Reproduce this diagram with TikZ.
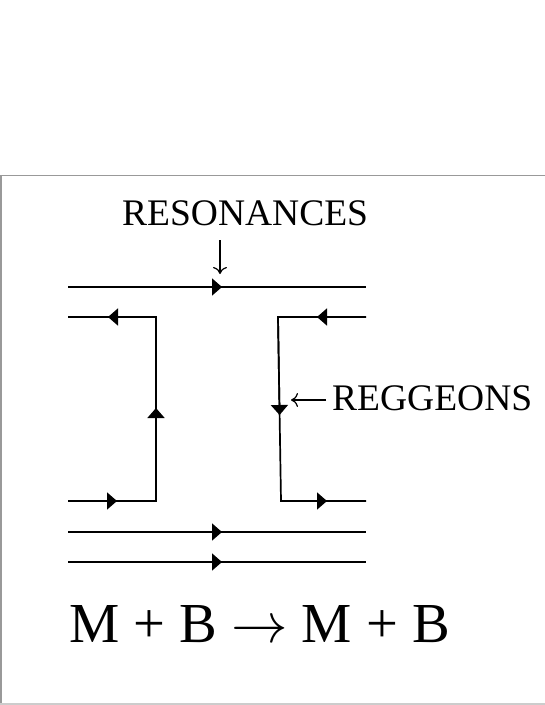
\documentclass[tikz,border=0pt]{standalone}
\usepackage{fix-cm}
\usepackage{fontspec}
\setmainfont{Liberation Serif}
\usetikzlibrary{arrows.meta}
\begin{document}
\begin{tikzpicture}[x=1pt,y=-1pt,
  wline/.style={line width=1.7pt},
  tipped/.style={line width=1.7pt,-{Triangle[length=10pt,width=17pt]}},
  thinarrow/.style={line width=1.2pt,-{To[length=7pt,width=14pt]}},
  frameline/.style={draw=black!40,line width=1.3pt},
  lbl/.style={inner sep=0pt,font=\fontsize{37.5}{40}\selectfont},
  eqn/.style={inner sep=0pt,font=\fontsize{56.5}{60}\selectfont}]
\useasboundingbox (0,0) rectangle (545,705);
% frame
\coordinate (f1) at (0,175.5);
\coordinate (f2) at (545,175.5);
\coordinate (f3) at (1,175.5);
\coordinate (f4) at (1,705);
\coordinate (f5) at (0,704);
\coordinate (f6) at (545,704);
\draw[frameline] (f1) -- (f2);
\draw[frameline] (f3) -- (f4);
\draw[draw=black!20,line width=1.3pt] (f5) -- (f6);
% top line
\coordinate (t1) at (68,287);
\coordinate (t2) at (366,287);
\coordinate (ta) at (222,287);
\draw[wline] (t1) -- (t2);
\draw[tipped] (t1) -- (ta);
% left loop
\coordinate (l1) at (68,317);
\coordinate (l2) at (156,317);
\coordinate (l3) at (156,501);
\coordinate (l4) at (68,501);
\coordinate (la) at (117,501);
\coordinate (lb) at (156,408);
\coordinate (lc) at (108,317);
\draw[wline] (l4) -- (l3) -- (l2) -- (l1);
\draw[tipped] (l4) -- (la);
\draw[tipped] (l3) -- (lb);
\draw[tipped] (l2) -- (lc);
% right loop
\coordinate (r1) at (366,317);
\coordinate (r2) at (278,317);
\coordinate (r3) at (281,501);
\coordinate (r4) at (366,501);
\coordinate (ra) at (317,317);
\coordinate (rb) at (279.6,415);
\coordinate (rc) at (327,501);
\draw[wline] (r1) -- (r2) -- (r3) -- (r4);
\draw[tipped] (r1) -- (ra);
\draw[tipped] (r2) -- (rb);
\draw[tipped] (r3) -- (rc);
% bottom lines
\coordinate (b1) at (68,532);
\coordinate (b2) at (366,532);
\coordinate (ba) at (222,532);
\coordinate (c1) at (68,562);
\coordinate (c2) at (366,562);
\coordinate (ca) at (222,562);
\draw[wline] (b1) -- (b2);
\draw[tipped] (b1) -- (ba);
\draw[wline] (c1) -- (c2);
\draw[tipped] (c1) -- (ca);
% labels
\node[lbl,anchor=base west] (res) at (122,225) {RESONANCES};
\coordinate (resa) at (220,240);
\coordinate (resb) at (220,274);
\draw[thinarrow] (resa) -- (resb);
\node[lbl,anchor=base west] (reg) at (332,410) {REGGEONS};
\coordinate (rega) at (326,400);
\coordinate (regb) at (291,400);
\draw[thinarrow] (rega) -- (regb);
\node[eqn,anchor=base west] (eq) at (69,642) {M + B $\rightarrow$ M + B};
\end{tikzpicture}
\end{document}
